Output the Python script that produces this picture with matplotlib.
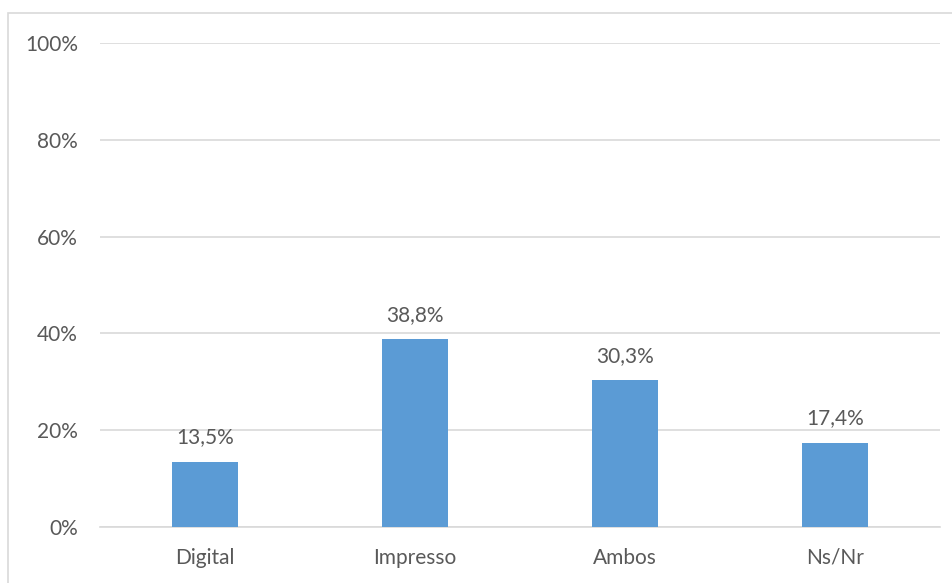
import matplotlib.pyplot as plt
from matplotlib.patches import Rectangle

categories = ["Digital", "Impresso", "Ambos", "Ns/Nr"]
values = [13.5, 38.8, 30.3, 17.4]
y_ticks = [0, 20, 40, 60, 80, 100]

plt.rcParams["font.family"] = ["Lato", "DejaVu Sans"]
TEXT = "#595959"
GRID = "#D9D9D9"
BAR = "#5B9BD5"

fig = plt.figure(figsize=(9.53, 5.83), dpi=100)
ax = fig.add_axes([100 / 953, 1 - 527 / 583, 840 / 953, 484 / 583])

x = range(len(categories))
ax.bar(x, values, width=0.315, color=BAR, zorder=3)
for xi, v in zip(x, values):
    ax.text(xi, v + 3.0, f"{v:.1f}%".replace(".", ","), ha="center", va="bottom",
            fontsize=15, color=TEXT)

ax.set_xlim(-0.5, len(categories) - 0.5)
ax.set_ylim(0, 100)
ax.set_yticks(y_ticks)
ax.set_yticklabels([f"{t}%" for t in y_ticks])
ax.set_xticks(list(x))
ax.set_xticklabels(categories)
ax.tick_params(axis="both", length=0, labelsize=15, labelcolor=TEXT)
ax.tick_params(axis="y", pad=16)
ax.tick_params(axis="x", pad=15)
ax.grid(axis="y", color=GRID, linewidth=1.2, zorder=0)
for side in ("top", "right", "left"):
    ax.spines[side].set_visible(False)
ax.spines["bottom"].set_color(GRID)
ax.spines["bottom"].set_linewidth(1.2)

# chart frame, open to the right and bottom edges
fig.patches.append(Rectangle((8 / 953, -0.05), 1.05, 1 - 13 / 583 + 0.05,
                             transform=fig.transFigure, fill=False,
                             edgecolor="#D9D9D9", linewidth=1.2))

fig.savefig("out.png", dpi=100)
